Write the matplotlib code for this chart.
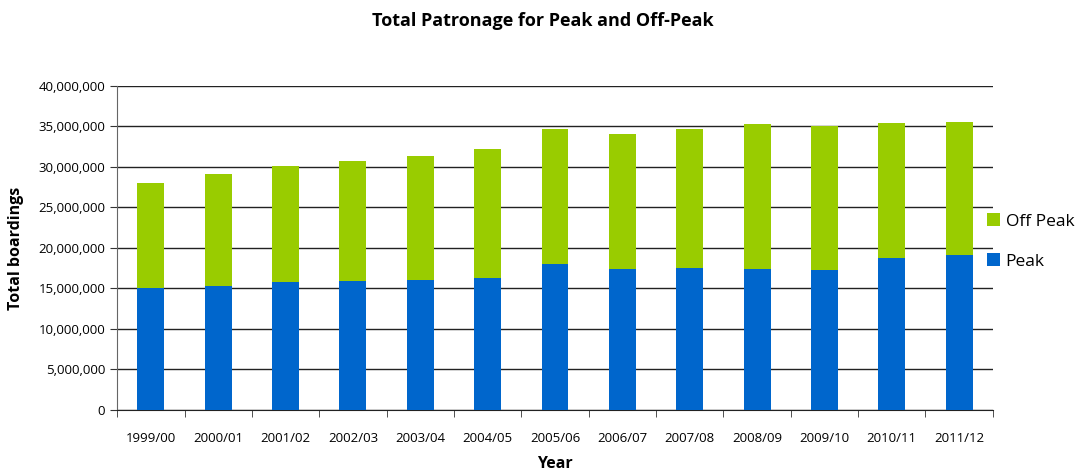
import numpy as np
import matplotlib
matplotlib.use('Agg')
import matplotlib.pyplot as plt
from matplotlib.ticker import FuncFormatter, FixedLocator

plt.rcParams['font.family'] = ['Open Sans', 'DejaVu Sans']

# data
years = ['1999/00', '2000/01', '2001/02', '2002/03', '2003/04', '2004/05', '2005/06',
         '2006/07', '2007/08', '2008/09', '2009/10', '2010/11', '2011/12']
peak = [15.04, 15.29, 15.78, 15.9, 16.03, 16.27, 17.99,
        17.38, 17.5, 17.38, 17.26, 18.75, 19.1]
total = [27.96, 29.07, 30.17, 30.79, 31.4, 32.26, 34.72,
         34.1, 34.72, 35.34, 35.06, 35.46, 35.58]

peak = np.array(peak) * 1e6
offpeak = np.array(total) * 1e6 - peak

fig = plt.figure(figsize=(10.85, 4.75), dpi=100)
ax = fig.add_axes([0.108, 0.137, 0.807, 0.682])

x = np.arange(len(years))
ax.bar(x, peak, width=0.4, color='#0066CC', label='Peak', zorder=3)
ax.bar(x, offpeak, width=0.4, bottom=peak, color='#99CC00', label='Off Peak', zorder=3)

ax.set_xlim(-0.5, len(years) - 0.5)
ax.set_ylim(0, 40e6)
ax.set_yticks(np.arange(0, 40e6 + 1, 5e6))
ax.yaxis.set_major_formatter(FuncFormatter(lambda v, p: '{:,.0f}'.format(v)))
ax.yaxis.grid(True, color='#222222', linewidth=1, zorder=0)

ax.set_xticks(x)
ax.set_xticklabels(years, fontsize=9.5)
ax.xaxis.set_minor_locator(FixedLocator(np.arange(-0.5, len(years), 1)))
ax.tick_params(axis='x', which='major', length=0, pad=16)
ax.tick_params(axis='x', which='minor', length=5, direction='out', color='#333333')
ax.tick_params(axis='y', labelsize=9.5, length=5, direction='out', color='#333333')

for s in ['top', 'right']:
    ax.spines[s].set_visible(False)
ax.spines['left'].set_color('#666666')
ax.spines['bottom'].set_color('#222222')

ax.set_ylabel('Total boardings', fontsize=11.5, fontweight='bold', labelpad=10)
ax.set_xlabel('Year', fontsize=11.5, fontweight='bold', labelpad=8)
fig.suptitle('Total Patronage for Peak and Off-Peak', fontsize=13, fontweight='bold', y=0.975)

h, l = ax.get_legend_handles_labels()
ax.legend(h[::-1], l[::-1], loc='center left', bbox_to_anchor=(0.975, 0.52),
          frameon=False, fontsize=12.5, handlelength=0.75, handleheight=0.75,
          handletextpad=0.35, labelspacing=1.35)

fig.savefig('out.png', dpi=100)
